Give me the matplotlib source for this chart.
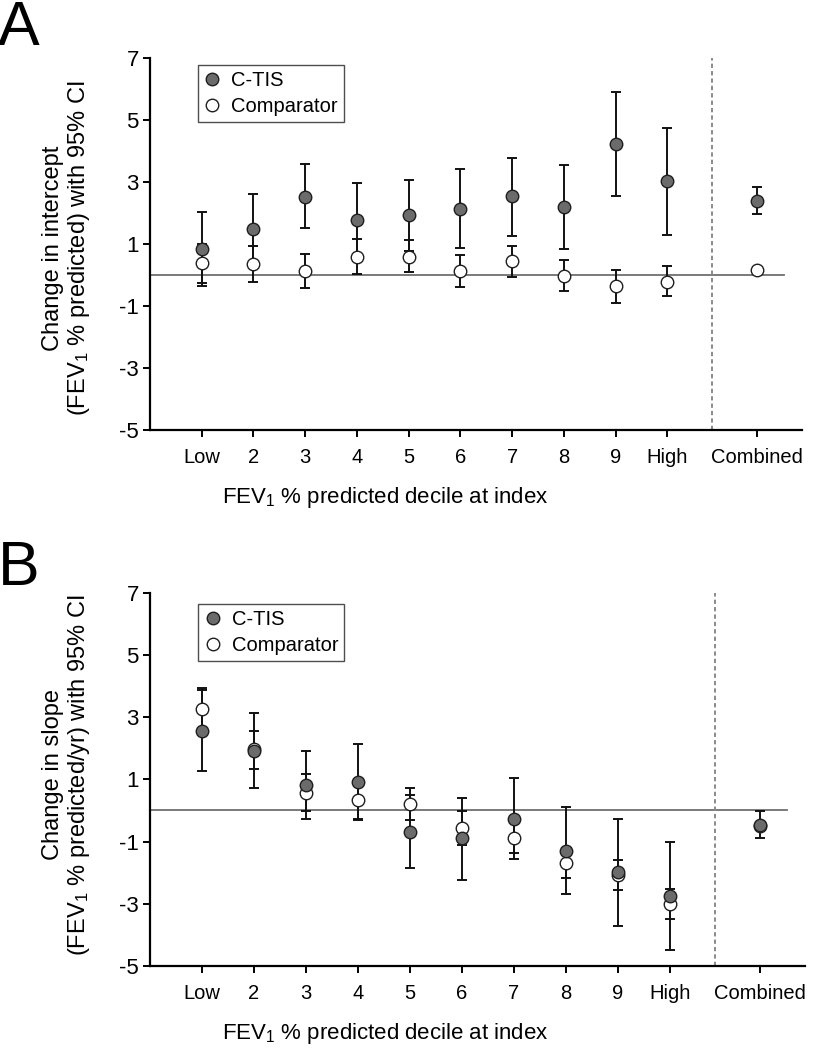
import matplotlib
matplotlib.use("Agg")
import matplotlib.pyplot as plt
from matplotlib.lines import Line2D

plt.rcParams['font.family'] = ['Liberation Sans', 'DejaVu Sans']
plt.rcParams['mathtext.fontset'] = 'custom'
plt.rcParams['mathtext.rm'] = 'Liberation Sans'
plt.rcParams['mathtext.it'] = 'Liberation Sans:italic'
plt.rcParams['axes.unicode_minus'] = False

# ---------------- data ----------------
categories = ['Low', '2', '3', '4', '5', '6', '7', '8', '9', 'High', 'Combined']
x_pos = [1, 2, 3, 4, 5, 6, 7, 8, 9, 10, 11.73]
divider_x = 10.86

# Panel A: change in intercept
ctis_a = [0.84, 1.49, 2.53, 1.76, 1.92, 2.13, 2.54, 2.20, 4.22, 3.02, 2.39]
ctis_a_lo = [-0.34, 0.38, 1.51, 0.55, 0.79, 0.86, 1.26, 0.85, 2.56, 1.30, 1.96]
ctis_a_hi = [2.02, 2.60, 3.58, 2.97, 3.05, 3.43, 3.78, 3.54, 5.90, 4.75, 2.85]
comp_a = [0.38, 0.34, 0.13, 0.59, 0.59, 0.13, 0.44, -0.02, -0.37, -0.22, 0.16]
comp_a_lo = [-0.25, -0.24, -0.43, 0.03, 0.09, -0.40, -0.08, -0.53, -0.89, -0.69, 0.08]
comp_a_hi = [1.00, 0.92, 0.69, 1.15, 1.14, 0.65, 0.94, 0.48, 0.16, 0.28, 0.24]

# Panel B: change in slope
ctis_b = [2.55, 1.92, 0.83, 0.93, -0.68, -0.90, -0.27, -1.30, -1.98, -2.75, -0.46]
ctis_b_lo = [1.28, 0.73, -0.26, -0.28, -1.86, -2.22, -1.57, -2.70, -3.70, -4.50, -0.90]
ctis_b_hi = [3.87, 3.12, 1.92, 2.14, 0.50, 0.41, 1.03, 0.10, -0.28, -1.03, -0.02]
comp_b = [3.27, 1.96, 0.57, 0.33, 0.21, -0.56, -0.87, -1.69, -2.08, -3.00, -0.51]
comp_b_lo = [2.61, 1.34, -0.03, -0.30, -0.30, -1.11, -1.37, -2.17, -2.56, -3.49, -0.61]
comp_b_hi = [3.93, 2.57, 1.18, 0.96, 0.72, -0.01, -0.37, -1.21, -1.60, -2.53, -0.41]

yticks = [-5, -3, -1, 1, 3, 5, 7]
series_names = ['C-TIS', 'Comparator']
ylabel_a = 'Change in intercept\n(FEV$_1$ % predicted) with 95% CI'
ylabel_b = 'Change in slope\n(FEV$_1$ % predicted/yr) with 95% CI'
xlabel = 'FEV$_1$ % predicted decile at index'

# ---------------- style ----------------
W, H = 813, 1050
fig = plt.figure(figsize=(W / 100, H / 100), dpi=100)

ctis_face = '#6b6b6b'
edge = '#1e1e1e'
MS = 9.0


def panel(rect, ctis, c_lo, c_hi, comp, p_lo, p_hi, ylabel, ylab_y,
          xlab_y, letter, letter_y, leg_top):
    ax = fig.add_axes(rect)
    ax.set_xlim(0, 12.6)
    ax.set_ylim(-5, 7)
    for s in ['top', 'right']:
        ax.spines[s].set_visible(False)
    for s in ['left', 'bottom']:
        ax.spines[s].set_linewidth(1.6)
    ax.tick_params(axis='both', direction='out', length=5, width=1.4)
    ax.tick_params(axis='y', labelsize=16, pad=3)
    ax.tick_params(axis='x', labelsize=14.5, pad=8)
    ax.set_yticks(yticks)
    ax.set_xticks(x_pos)
    ax.set_xticklabels(categories)

    ax.plot([0, 12.26], [0, 0], color='#707070', lw=1.3, zorder=1)
    ax.axvline(divider_x, color='#8a8a8a', lw=1.4, ls=(0, (2.2, 1.6)), zorder=1)

    c_err = [[c - l for c, l in zip(ctis, c_lo)], [h - c for c, h in zip(ctis, c_hi)]]
    p_err = [[c - l for c, l in zip(comp, p_lo)], [h - c for c, h in zip(comp, p_hi)]]
    ax.errorbar(x_pos, comp, yerr=p_err, fmt='none', ecolor='#111111',
                elinewidth=1.4, capsize=3.4, capthick=1.4, zorder=2)
    ax.errorbar(x_pos, ctis, yerr=c_err, fmt='none', ecolor='#111111',
                elinewidth=1.4, capsize=3.4, capthick=1.4, zorder=2)
    ax.plot(x_pos, comp, 'o', ms=MS, mfc='white', mec=edge, mew=1.0,
            ls='none', zorder=3)
    ax.plot(x_pos, ctis, 'o', ms=MS, mfc=ctis_face, mec=edge, mew=1.0,
            ls='none', zorder=4)

    handles = [Line2D([], [], marker='o', ls='none', ms=MS, mfc=ctis_face, mec=edge, mew=1.0),
               Line2D([], [], marker='o', ls='none', ms=MS, mfc='white', mec=edge, mew=1.0)]
    leg = ax.legend(handles, series_names, loc='upper left',
                    bbox_to_anchor=(0.074, leg_top), borderaxespad=0,
                    fontsize=14.5, frameon=True, fancybox=False, handlelength=0.8,
                    handletextpad=0.55, borderpad=0.3, labelspacing=0.35)
    leg.get_frame().set_edgecolor('#222222')
    leg.get_frame().set_linewidth(1.0)

    fig.text(385 / W, 1 - xlab_y / H, xlabel, fontsize=16,
             ha='center', va='center')
    fig.text(67 / W, 1 - ylab_y / H, ylabel, rotation=90, ha='center', va='center',
             multialignment='center', fontsize=17, linespacing=1.15)
    fig.text(-0.002, 1 - letter_y / H, letter, fontsize=45, ha='left', va='baseline')
    return ax


axA = panel([150 / W, 1 - 430 / H, 652 / W, 372 / H], ctis_a, ctis_a_lo, ctis_a_hi,
            comp_a, comp_a_lo, comp_a_hi, ylabel_a, 248, 497, 'A', 45, 0.981)
axB = panel([150 / W, 1 - 966 / H, 655 / W, 373.3 / H], ctis_b, ctis_b_lo, ctis_b_hi,
            comp_b, comp_b_lo, comp_b_hi, ylabel_b, 775, 1033, 'B', 585, 0.970)

fig.savefig('out.png', dpi=100)
